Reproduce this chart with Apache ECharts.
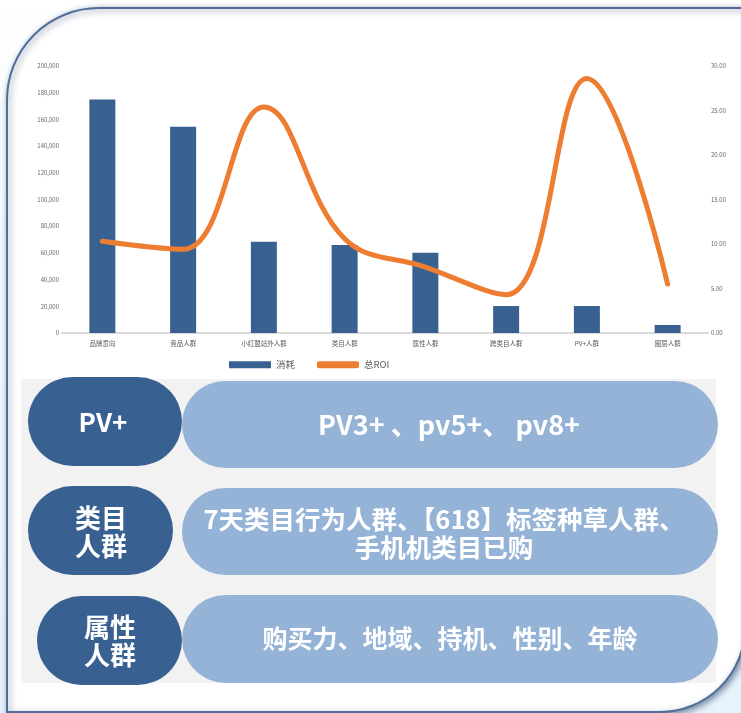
<!DOCTYPE html>
<html><head><meta charset="utf-8">
<script src="https://cdn.jsdelivr.net/npm/echarts@6/dist/echarts.min.js"></script>
<style>html,body{margin:0;padding:0;background:#fff}#c{width:741px;height:713px}</style>
</head><body><div id="c"></div>
<script>
const categories = ['品牌意向','竞品人群','小红盟站外人群','类目人群','属性人群','跨类目人群','PV+人群','圈层人群'];
const costValues = [175000, 154500, 68300, 65900, 60100, 20200, 20200, 6000];
const roiValues = [10.3, 9.4, 25.4, 10.6, 7.4, 4.3, 28.6, 5.5];
const seriesNames = ['消耗', '总ROI'];
const leftAxisMax = 200000, leftAxisStep = 20000;
const rightAxisMax = 30, rightAxisStep = 5;
const tagLabels = ['PV+', '类目\n人群', '属性\n人群'];
const tagDetails = ['PV3+ 、pv5+、 pv8+', '7天类目行为人群、【618】标签种草人群、\n手机机类目已购', '购买力、地域、持机、性别、年龄'];

const FONT = '"Noto Sans CJK SC", "Open Sans", sans-serif';
const DARK = '#386192', LIGHT = '#95b3d7', ORANGE = '#ed7d31';

const darkPills = [
  {x: 28, y: 377, w: 154, h: 89, tx: 103, ty: 422, fs: 26},
  {x: 28, y: 486, w: 145, h: 89, tx: 101, ty: 532, fs: 26},
  {x: 37, y: 596, w: 145, h: 89, tx: 110, ty: 641, fs: 26}
];
const lightPills = [
  {x: 182, y: 381, w: 536, h: 87, tx: 449, ty: 425, fs: 27},
  {x: 182, y: 488, w: 536, h: 87, tx: 444, ty: 533, fs: 25.5},
  {x: 182, y: 595, w: 536, h: 88, tx: 450, ty: 638, fs: 25}
];

const graphics = [
  {type: 'rect', z: -10, silent: true, shape: {x: 0, y: 0, width: 741, height: 713},
   style: {fill: new echarts.graphic.LinearGradient(0, 0, 0, 1, [{offset: 0, color: '#ffffff'}, {offset: 0.35, color: '#f1f8fd'}, {offset: 1, color: '#e6f3fb'}])}},
  {type: 'rect', z: -9, silent: true, shape: {x: 7, y: 8, width: 738, height: 704, r: [92, 0, 85, 0]},
   style: {fill: '#ffffff', stroke: '#4f6f9a', lineWidth: 2, shadowBlur: 6, shadowOffsetX: 2, shadowOffsetY: 2, shadowColor: 'rgba(30,50,90,0.55)'}},
  {type: 'rect', z: -8, silent: true, shape: {x: 21, y: 379, width: 695, height: 304},
   style: {fill: '#f2f2f2'}}
];
lightPills.forEach((p, i) => {
  graphics.push({type: 'rect', z: 1, z2: 1, shape: {x: p.x, y: p.y, width: p.w, height: p.h, r: p.h / 2}, style: {fill: LIGHT}});
  graphics.push({type: 'text', z: 1, z2: 3, style: {text: tagDetails[i], x: p.tx, y: p.ty, align: 'center', verticalAlign: 'middle',
    fill: '#ffffff', fontSize: p.fs, fontWeight: 'bold', fontFamily: FONT, lineHeight: 28}});
});
darkPills.forEach((p, i) => {
  graphics.push({type: 'rect', z: 1, z2: 2, shape: {x: p.x, y: p.y, width: p.w, height: p.h, r: p.h / 2}, style: {fill: DARK}});
  graphics.push({type: 'text', z: 1, z2: 3, style: {text: tagLabels[i], x: p.tx, y: p.ty, align: 'center', verticalAlign: 'middle',
    fill: '#ffffff', fontSize: p.fs, fontWeight: 'bold', fontFamily: FONT, lineHeight: 28}});
});

const chart = echarts.init(document.getElementById('c'), null, {renderer: 'canvas'});
chart.setOption({
  animation: false,
  textStyle: {fontFamily: FONT},
  graphic: graphics,
  grid: {left: 62, right: 33, top: 66, bottom: 380, containLabel: false},
  legend: {
    left: 229, top: 360, itemWidth: 42, itemHeight: 7, itemGap: 22, padding: 0,
    textStyle: {fontSize: 9.5, color: '#595959', fontFamily: FONT},
    data: [{name: seriesNames[0], icon: 'rect'}, {name: seriesNames[1], icon: 'roundRect'}]
  },
  xAxis: {
    type: 'category', data: categories,
    axisLine: {lineStyle: {color: '#d9d9d9', width: 2}},
    axisTick: {show: false},
    axisLabel: {fontSize: 6.5, color: '#595959', margin: 7, interval: 0}
  },
  yAxis: [
    {type: 'value', min: 0, max: leftAxisMax, interval: leftAxisStep,
     splitLine: {show: false}, axisLine: {show: false}, axisTick: {show: false},
     axisLabel: {fontSize: 6, color: '#666', margin: 3,
       formatter: v => v.toLocaleString('en-US')}},
    {type: 'value', min: 0, max: rightAxisMax, interval: rightAxisStep,
     splitLine: {show: false}, axisLine: {show: false}, axisTick: {show: false},
     axisLabel: {fontSize: 6, color: '#666', margin: 3, formatter: v => v.toFixed(2)}}
  ],
  series: [
    {name: seriesNames[0], type: 'bar', data: costValues, barWidth: 26, itemStyle: {color: DARK}},
    {name: seriesNames[1], type: 'line', yAxisIndex: 1, data: roiValues, smooth: 0.4,
     symbol: 'none', lineStyle: {color: ORANGE, width: 5, cap: 'round'}, itemStyle: {color: ORANGE}, z: 3}
  ]
});
</script></body></html>
